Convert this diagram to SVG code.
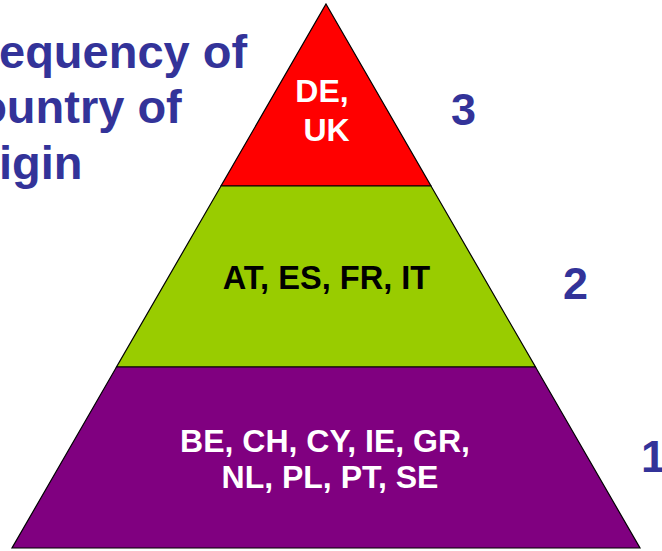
<svg xmlns="http://www.w3.org/2000/svg" width="662" height="551" viewBox="0 0 662 551">
<style>
.t{font-family:"Liberation Sans",Arial,sans-serif;font-weight:bold}
.title{font-size:47px;fill:#333399}
.num{font-size:45px;fill:#333399}
.lbl{font-size:32px;text-anchor:middle}
.seg{stroke:#000;stroke-width:1.2;stroke-linejoin:miter}
</style>
<rect width="662" height="551" fill="#fff"/>
<g id="title" class="t title">
<text x="-48" y="68">Frequency of</text>
<text x="-48" y="123">country of</text>
<text x="-48" y="179">origin</text>
</g>
<g id="level3">
<polygon class="seg" fill="#FF0000" points="326,4 431,186 221,186"/>
<text class="t lbl" fill="#fff" x="322" y="102">DE,</text>
<text class="t lbl" fill="#fff" x="326.5" y="141">UK</text>
</g>
<g id="level2">
<polygon class="seg" fill="#99CC00" points="221,186 431,186 535.5,367 116.5,367"/>
<text class="t lbl" fill="#000" x="326.5" y="289" style="font-size:32.6px">AT, ES, FR, IT</text>
</g>
<g id="level1">
<polygon class="seg" fill="#800080" points="116.5,367 535.5,367 640,548 12,548"/>
<text class="t lbl" fill="#fff" x="325" y="452">BE, CH, CY, IE, GR,</text>
<text class="t lbl" fill="#fff" x="330" y="488">NL, PL, PT, SE</text>
</g>
<g id="numbers" class="t num">
<text x="451" y="125">3</text>
<text x="563" y="299">2</text>
<text x="641" y="472">1</text>
</g>
</svg>
